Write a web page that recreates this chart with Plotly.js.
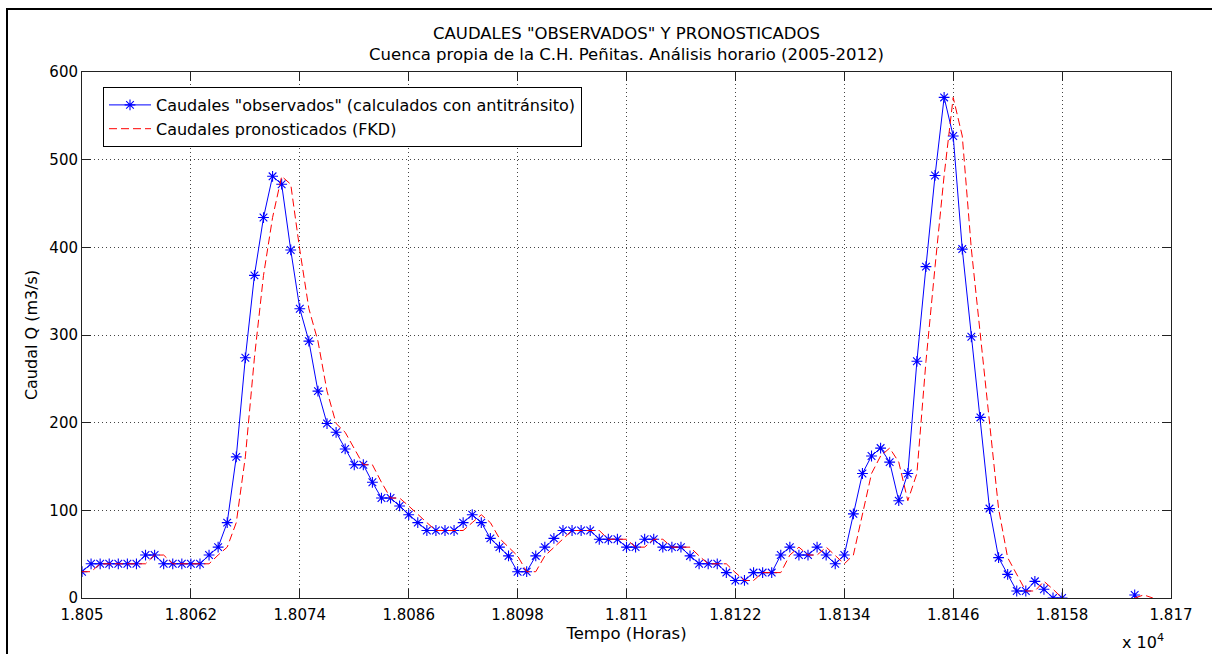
<!DOCTYPE html>
<html>
<head>
<meta charset="utf-8">
<script src="https://cdn.plot.ly/plotly-3.0.1.min.js"></script>
<style>html,body{margin:0;padding:0;background:#fff;}</style>
</head>
<body>
<div id="chart" style="width:1212px;height:654px;"></div>
<script>
// Hours (x values)
const hours = [
 18050,18051,18052,18053,18054,18055,18056,18057,18058,18059,18060,18061,
 18062,18063,18064,18065,18066,18067,18068,18069,18070,18071,18072,18073,
 18074,18075,18076,18077,18078,18079,18080,18081,18082,18083,18084,18085,
 18086,18087,18088,18089,18090,18091,18092,18093,18094,18095,18096,18097,
 18098,18099,18100,18101,18102,18103,18104,18105,18106,18107,18108,18109,
 18110,18111,18112,18113,18114,18115,18116,18117,18118,18119,18120,18121,
 18122,18123,18124,18125,18126,18127,18128,18129,18130,18131,18132,18133,
 18134,18135,18136,18137,18138,18139,18140,18141,18142,18143,18144,18145,
 18146,18147,18148,18149,18150,18151,18152,18153,18154,18155,18156,18157,
 18158,18159,18160,18161,18162,18163,18164,18165,18166,18167,18168
];

// Caudales "observados" (m3/s)
const observados = [
 30,39,39,39,39,39,39,49,49,39,39,39,
 39,39,49,58,86,161,274,368,434,481,472,397,
 330,293,236,199,189,170,152,152,132,114,114,105,
 95,86,77,77,77,77,86,95,86,68,58,48,
 30,30,48,58,68,77,77,77,77,67,67,67,
 58,58,67,67,58,58,58,48,39,39,39,29,
 20,20,29,29,29,49,58,49,49,58,49,39,
 49,96,142,162,171,155,111,142,270,378,482,571,
 527,398,298,206,102,46,27,8,8,19,10,0,
 0,null,null,null,null,null,null,null,3.5,null,null
];

// Caudales pronosticados FKD (m3/s)
const pronosticados = [
 30,30,39,39,39,39,39,39,49,49,39,39,
 39,39,39,49,58,86,161,274,368,434,481,472,
 397,330,293,236,199,189,170,152,152,132,114,114,
 105,95,86,77,77,77,77,86,95,86,68,58,
 48,30,30,48,58,68,77,77,77,77,67,67,
 67,58,58,67,67,58,58,58,48,39,39,39,
 29,20,20,29,29,29,49,58,49,49,58,49,
 39,49,96,142,162,171,155,111,142,270,378,482,
 571,527,398,298,206,102,46,27,8,8,19,10,
 0,null,null,null,null,null,null,null,0,3.5,0
];

// Tick values and labels (x10^4 scaled labels)
const xTickVals = [18050,18062,18074,18086,18098,18110,18122,18134,18146,18158,18170];
const xTickText = ['1.805','1.8062','1.8074','1.8086','1.8098','1.811','1.8122','1.8134','1.8146','1.8158','1.817'];
const yTickVals = [0,100,200,300,400,500,600];

const FONT = 'DejaVu Sans, Lucida Grande, Verdana, sans-serif';

const traces = [
 {
  x: hours, y: observados, type: 'scatter', mode: 'lines+markers',
  name: 'Caudales "observados" (calculados con antitránsito)',
  line: {color: '#0000ff', width: 1},
  marker: {symbol: 'asterisk-open', size: 9, color: '#0000ff', line: {color: '#0000ff', width: 1.1}},
  connectgaps: false, legendgroup: 'a'
 },
 {
  x: hours, y: pronosticados, type: 'scatter', mode: 'lines',
  name: 'Caudales pronosticados (FKD)',
  line: {color: '#ff0000', width: 1, dash: '8px,4px'},
  connectgaps: false, legendgroup: 'b'
 }
];

const L = 82, R = 1171, T = 72, B = 598;
const px2x = p => (p - L) / (R - L);
const py2y = p => (B - p) / (B - T);

const axisCommon = {
 showline: true, linecolor: '#222', linewidth: 1, mirror: 'ticks',
 ticks: 'inside', ticklen: 9, tickcolor: '#222', tickwidth: 1,
 showgrid: true, gridcolor: '#444', gridwidth: 1, griddash: '1px,3px',
 zeroline: false, tickfont: {family: FONT, size: 15, color: '#000'}
};

const layout = {
 width: 1212, height: 654,
 margin: {l: L, r: 1212 - R, t: T, b: 654 - B},
 paper_bgcolor: '#fff', plot_bgcolor: '#fff',
 font: {family: FONT, size: 15, color: '#000'},
 title: {
  text: 'CAUDALES "OBSERVADOS" Y PRONOSTICADOS<br>Cuenca propia de la C.H. Peñitas. Análisis horario (2005-2012)',
  x: ((L + R) / 2) / 1212, xanchor: 'center', xref: 'container',
  y: 1 - 39 / 654, yanchor: 'top', yref: 'container',
  font: {family: FONT, size: 16.5, color: '#000'}
 },
 xaxis: Object.assign({}, axisCommon, {
  range: [18050, 18170], tickmode: 'array', tickvals: xTickVals, ticktext: xTickText,
  ticklabelstandoff: 3,
  title: {text: 'Tempo (Horas)', font: {family: FONT, size: 16.5, color: '#000'}, standoff: 4}
 }),
 yaxis: Object.assign({}, axisCommon, {
  range: [0, 600], tickmode: 'array', tickvals: yTickVals,
  title: {text: 'Caudal Q (m3/s)', font: {family: FONT, size: 16, color: '#000'}, standoff: 7}
 }),
 showlegend: true,
 legend: {
  x: px2x(103), y: py2y(87), xanchor: 'left', yanchor: 'top',
  bgcolor: '#fff', bordercolor: '#000', borderwidth: 1,
  font: {family: FONT, size: 16, color: '#000'},
  traceorder: 'grouped', tracegroupgap: 0, itemwidth: 42
 },
 shapes: [
  {type: 'line', xref: 'paper', yref: 'paper', x0: px2x(7), x1: px2x(7), y0: py2y(9), y1: py2y(660), line: {color: '#000', width: 2}},
  {type: 'line', xref: 'paper', yref: 'paper', x0: px2x(6), x1: px2x(1215), y0: py2y(9), y1: py2y(9), line: {color: '#000', width: 2}}
 ],
 annotations: [
  {text: 'x 10<sup>4</sup>', xref: 'paper', yref: 'paper', x: px2x(1166), y: py2y(641), xanchor: 'right', yanchor: 'middle', showarrow: false, font: {family: FONT, size: 16, color: '#000'}}
 ]
};

Plotly.newPlot('chart', traces, layout, {displayModeBar: false, staticPlot: true});
</script>
</body>
</html>
